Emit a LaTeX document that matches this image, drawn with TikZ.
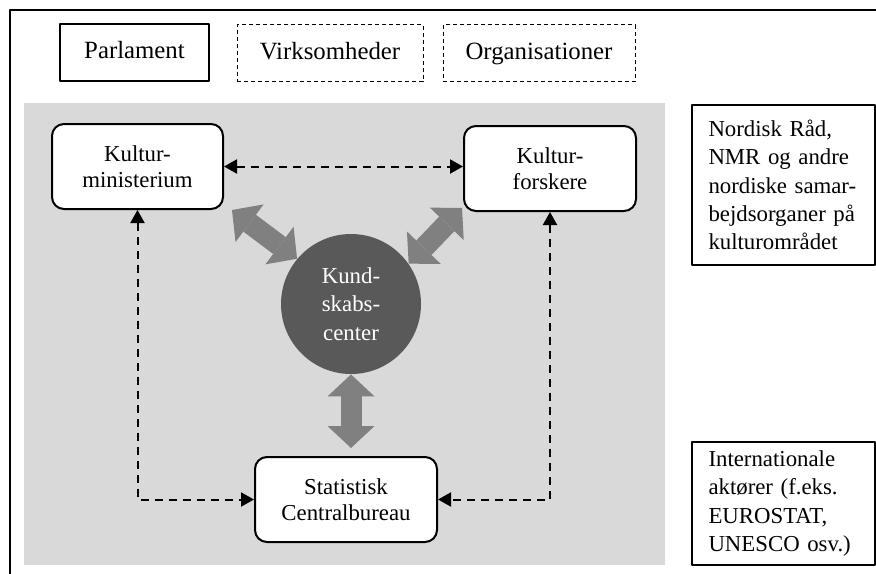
\documentclass[tikz,border=0pt]{standalone}
\usepackage{fontspec}
\setmainfont{Liberation Serif}
\usetikzlibrary{arrows.meta}
\begin{document}
\begin{tikzpicture}[x=.5pt,y=-.5pt,line join=round,>={Triangle[length=6.5pt,width=7pt]},
	topfont/.style={font=\fontsize{12.4}{14.5}\selectfont},
	boxfont/.style={font=\fontsize{11.4}{13}\selectfont},
	sidefont/.style={font=\fontsize{11.4}{14.2}\selectfont},
	topbox/.style={topfont,draw,line width=1pt,minimum height=28.5pt,inner sep=0pt,text height=8.7pt,text depth=2.7pt},
	dashbox/.style={topbox,line width=.5pt,dash pattern=on 2pt off 1.5pt},
	roundbox/.style={boxfont,draw,fill=white,line width=1pt,rounded corners=6pt,minimum height=42.5pt,align=center,inner sep=0pt},
	sidebox/.style={sidefont,draw,fill=white,line width=1pt,align=left,text width=75pt,inner xsep=8.25pt,inner ysep=0pt},
	dashlink/.style={<->,line width=1pt,dash pattern=on 4pt off 3pt},
	fatlink/.style={draw=black!50,line width=10.5pt,{Triangle[length=11pt,width=23.5pt,line width=0pt]}-{Triangle[length=11pt,width=23.5pt,line width=0pt]}}]
	\clip (0,0) rectangle (876,573);
	% frame and grey field
	\draw[line width=.75pt] (10,10) rectangle (900,600);
	\fill[black!15] (24,103) rectangle (665,565);
	\path
	(134.5,52.5) node[topbox,minimum width=74.5pt] (parl) {Parlament}
	(330,53) node[dashbox,minimum width=93pt] (virk) {Virksomheder}
	(539,53) node[dashbox,minimum width=96pt] (org) {Organisationer}
	(137.5,166.5) node[roundbox,minimum width=85.5pt] (KM) {Kultur-\\ministerium}
	(550,168.5) node[roundbox,minimum width=86pt] (KF) {Kultur-\\forskere}
	(346,499.5) node[roundbox,minimum width=91pt] (SC) {Statistisk\\Centralbureau}
	(351,304) node[circle,fill=black!65,text=white,minimum size=70pt,inner sep=0pt,align=center,sidefont] (KC) {Kund-\\skabs-\\center}
	(783.5,185) node[sidebox,minimum height=80pt] (nord) {Nordisk Råd,\\NMR og andre\\nordiske samar-\\bejdsorganer på\\kulturområdet}
	(783.5,503.5) node[sidebox,minimum height=61.5pt] (int) {Internationale\\aktører (f.eks.\\EUROSTAT,\\UNESCO osv.)}
	;
	\coordinate (lt) at (232,210);
	\coordinate (rt) at (462,208);
	\coordinate (bt) at (351,448);
	% broad grey arrows
	\draw[fatlink] (KC.140)--(lt);
	\draw[fatlink] (KC.35)--(rt);
	\draw[fatlink] (KC.south)--(bt);
	% dashed links
	\draw[dashlink] (KM.east)--(KM.east-|KF.west);
	\draw[dashlink] (KM.south)|-(SC.west);
	\draw[dashlink] (KF.south)|-(SC.east);
\end{tikzpicture}
\end{document}
